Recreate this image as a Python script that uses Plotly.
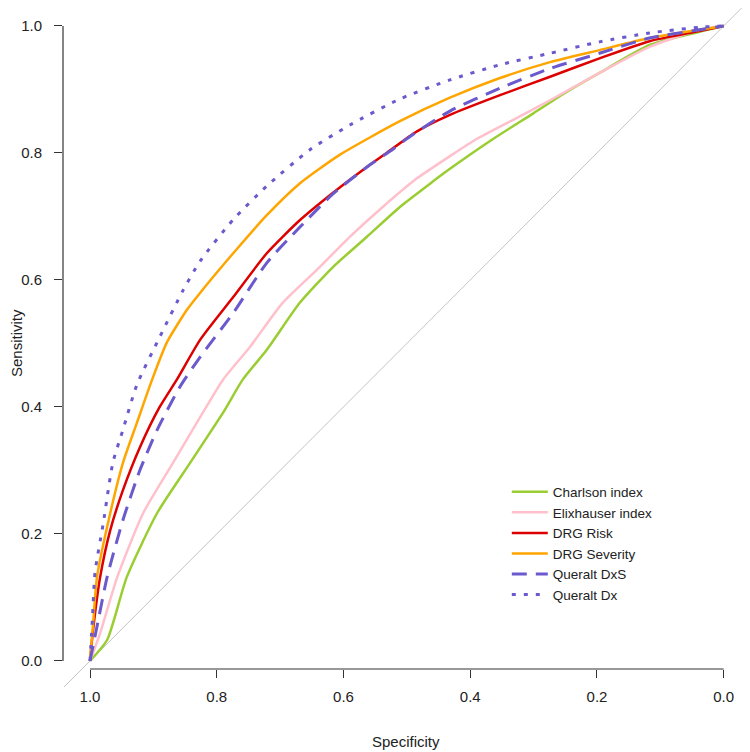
import plotly.graph_objects as go

# ---- data (specificity, sensitivity) ----
charlson_spec = [1.0, 0.973, 0.942, 0.894, 0.842, 0.790, 0.759, 0.721, 0.669, 0.617, 0.563, 0.511, 0.459, 0.432, 0.364, 0.301, 0.248, 0.196, 0.117, 0.038, 0.0]
charlson_sens = [0.0, 0.033, 0.132, 0.233, 0.312, 0.391, 0.443, 0.490, 0.564, 0.620, 0.668, 0.715, 0.755, 0.775, 0.822, 0.862, 0.896, 0.926, 0.970, 0.991, 1.0]

elix_spec = [1.0, 0.984, 0.957, 0.916, 0.869, 0.822, 0.790, 0.748, 0.696, 0.642, 0.590, 0.538, 0.484, 0.432, 0.390, 0.327, 0.274, 0.196, 0.117, 0.038, 0.0]
elix_sens = [0.0, 0.044, 0.132, 0.233, 0.312, 0.391, 0.443, 0.494, 0.564, 0.616, 0.668, 0.715, 0.760, 0.795, 0.822, 0.855, 0.883, 0.926, 0.967, 0.994, 1.0]

risk_spec = [1.0, 0.995, 0.984, 0.968, 0.948, 0.921, 0.890, 0.863, 0.826, 0.774, 0.721, 0.669, 0.617, 0.563, 0.532, 0.484, 0.432, 0.353, 0.274, 0.196, 0.117, 0.038, 0.0]
risk_sens = [0.0, 0.050, 0.132, 0.206, 0.269, 0.337, 0.400, 0.443, 0.506, 0.573, 0.642, 0.694, 0.737, 0.778, 0.800, 0.834, 0.860, 0.891, 0.920, 0.949, 0.976, 0.992, 1.0]

sev_spec = [1.0, 0.995, 0.989, 0.968, 0.948, 0.926, 0.902, 0.879, 0.847, 0.826, 0.774, 0.721, 0.669, 0.606, 0.511, 0.432, 0.353, 0.274, 0.196, 0.117, 0.038, 0.0]
sev_sens = [0.0, 0.060, 0.132, 0.233, 0.312, 0.375, 0.443, 0.501, 0.553, 0.580, 0.642, 0.702, 0.752, 0.797, 0.850, 0.887, 0.918, 0.943, 0.962, 0.981, 0.994, 1.0]

dxs_spec = [1.0, 0.989, 0.973, 0.948, 0.921, 0.894, 0.858, 0.826, 0.774, 0.721, 0.669, 0.617, 0.563, 0.522, 0.495, 0.432, 0.353, 0.274, 0.196, 0.117, 0.038, 0.0]
dxs_sens = [0.0, 0.054, 0.132, 0.222, 0.301, 0.364, 0.432, 0.479, 0.548, 0.627, 0.683, 0.735, 0.778, 0.806, 0.826, 0.866, 0.902, 0.933, 0.957, 0.981, 0.994, 1.0]

dx_spec = [1.0, 0.996, 0.992, 0.979, 0.964, 0.948, 0.926, 0.890, 0.853, 0.826, 0.774, 0.721, 0.653, 0.590, 0.511, 0.432, 0.353, 0.274, 0.196, 0.117, 0.038, 0.0]
dx_sens = [0.0, 0.070, 0.140, 0.217, 0.312, 0.364, 0.435, 0.510, 0.584, 0.630, 0.695, 0.748, 0.805, 0.844, 0.885, 0.915, 0.939, 0.957, 0.975, 0.989, 0.998, 1.0]

diag_spec = [1.2, -0.2]
diag_sens = [-0.2, 1.2]

tick_vals = [0.0, 0.2, 0.4, 0.6, 0.8, 1.0]
tick_text = ["0.0", "0.2", "0.4", "0.6", "0.8", "1.0"]

series = [
    ("Charlson index", charlson_spec, charlson_sens, "#9ACD32", 2.5, "solid"),
    ("Elixhauser index", elix_spec, elix_sens, "#FFC0CB", 2.5, "solid"),
    ("DRG Risk", risk_spec, risk_sens, "#DD0000", 2.5, "solid"),
    ("DRG Severity", sev_spec, sev_sens, "#FFA500", 2.5, "solid"),
    ("Queralt DxS", dxs_spec, dxs_sens, "#6A5ACD", 3, "15px,9px"),
    ("Queralt Dx", dx_spec, dx_sens, "#6A5ACD", 3, "4px,8px"),
]

FONT = "Liberation Sans, Arial, sans-serif"
AXC = "#333333"

fig = go.Figure()
fig.add_trace(go.Scatter(x=diag_spec, y=diag_sens, mode="lines",
                         line=dict(color="#C4C4C4", width=1), showlegend=False,
                         hoverinfo="skip"))
for name, xs, ys, col, w, dash in series:
    fig.add_trace(go.Scatter(x=xs, y=ys, mode="lines", name=name,
                             line=dict(color=col, width=w, dash=dash,
                                       shape="spline", smoothing=0.6)))

XPOS = 0.0265
fig.update_layout(
    width=742, height=744,
    margin=dict(l=55, r=0, t=0, b=65),
    paper_bgcolor="white", plot_bgcolor="white",
    font=dict(family=FONT, size=15, color="#222222"),
    xaxis=dict(range=[1.0426, -0.0415], tickvals=tick_vals, ticktext=tick_text,
               showgrid=False, zeroline=False, showline=False,
               ticks="outside", ticklen=8, tickwidth=1.2, tickcolor=AXC,
               anchor="free", position=XPOS, tickfont=dict(size=15),
               ticklabelstandoff=6),
    yaxis=dict(range=[-0.041, 1.0283], tickvals=tick_vals, ticktext=tick_text,
               showgrid=False, zeroline=False, showline=False,
               ticks="outside", ticklen=8, tickwidth=1.2, tickcolor=AXC,
               tickfont=dict(size=15), ticklabelstandoff=9),
    legend=dict(x=0.646, y=0.310, xanchor="left", yanchor="top",
                bgcolor="rgba(0,0,0,0)", font=dict(size=13.5, color="#222222"),
                tracegroupgap=0, itemwidth=36),
    shapes=[
        dict(type="line", xref="paper", yref="y", x0=0, x1=0, y0=0, y1=1,
             line=dict(color=AXC, width=1.2)),
        dict(type="line", xref="x", yref="paper", x0=1, x1=0, y0=XPOS, y1=XPOS,
             line=dict(color=AXC, width=1.2)),
    ],
    annotations=[
        dict(text="Sensitivity", xref="paper", yref="paper", x=(8 - 55) / 687, y=0.5066,
             textangle=-90, showarrow=False, xanchor="center", yanchor="middle",
             font=dict(size=15)),
        dict(text="Specificity", xref="paper", yref="paper", x=0.499, y=(679 - 733) / 679,
             showarrow=False, xanchor="center", yanchor="middle", font=dict(size=15)),
    ],
)

fig.write_html("out.html")
